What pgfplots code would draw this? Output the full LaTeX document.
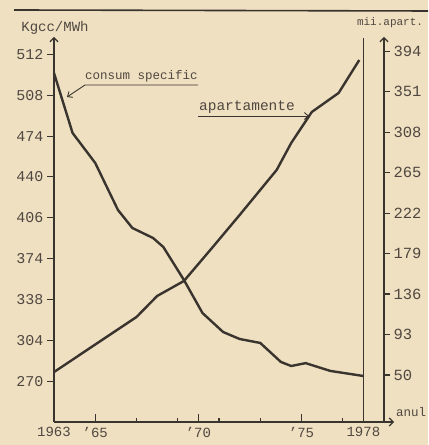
\documentclass[border=0pt]{standalone}
\usepackage{fontspec}
\setmainfont{Liberation Mono}
\usepackage{pgfplots}
\pgfplotsset{compat=1.18}
\usetikzlibrary{arrows.meta}
\definecolor{paper}{RGB}{239,224,194}
\definecolor{ink}{RGB}{58,52,46}
\definecolor{tinkc}{RGB}{80,72,64}
\pgfplotstableread{
year val
1963.0 526.5
1963.9 476.6
1965.0 451.6
1966.1 412.5
1966.8 397.5
1967.8 389.2
1968.3 381.7
1969.3 354.2
1970.2 326.7
1971.2 310.9
1972.0 305.1
1973.0 301.8
1974.0 286.0
1974.5 282.6
1975.2 285.0
1976.4 278.5
1978.0 274.3
}\consum
\pgfplotstableread{
year val
1963.0 53.1
1967.0 111.6
1968.0 133.9
1969.3 149.9
1970.7 186.0
1972.0 220.0
1973.8 268.0
1974.5 296.5
1975.5 329.5
1976.8 349.7
1977.8 384.7
}\apart
\begin{document}
\begin{tikzpicture}[x=1bp,y=1bp]
\fill[paper] (0,0) rectangle (428,445);
\useasboundingbox (0,0) rectangle (428,445);
\draw[ink, line width=1.6bp] (14,435) -- (428,434);
\pgfplotsset{base/.style={at={(54bp,23bp)}, anchor=south west, scale only axis,
  width=330bp, height=382bp, xmin=1963, xmax=1979, clip=false,
  axis line style={ink, line width=1.2bp}, tick style={ink, line width=1.1bp}}}
% x axis + consumption
\begin{axis}[base, ymin=236, ymax=554, axis x line=bottom, axis y line=none,
  x axis line style={-{Straight Barb[length=4bp,width=8bp]}, shorten >=-10bp},
  tick align=inside, major tick length=8bp,
  xtick={1963,1965,1970,1975,1978}, xticklabels={1963,'65,'70,'75,1978},
  extra x ticks={1967,1969,1971,1973,1977}, extra x tick labels={},
  extra x tick style={major tick length=4bp},
  xticklabel style={font=\fontsize{14bp}{14bp}\selectfont, text=tinkc, yshift=-2bp},
  ytick=\empty]
\addplot[ink, line width=2.4bp, line join=round, mark=none] table[x=year,y=val] {\consum};
\draw[ink, line width=1.2bp] (axis cs:1978,236) -- (axis cs:1978,556);
\end{axis}
% left axis
\begin{axis}[base, ymin=236, ymax=554, axis x line=none, axis y line=left,
  y axis line style={-{Straight Barb[length=4bp,width=8bp]}, shorten >=-3bp},
  tick align=outside, major tick length=7bp, xtick=\empty,
  ytick={270,304,338,372,406,440,474,508,542},
  yticklabels={270,304,338,374,406,440,474,508,512},
  yticklabel style={font=\fontsize{15bp}{15bp}\selectfont, text=tinkc}]
\end{axis}
% right axis
\begin{axis}[base, ymin=0, ymax=406, axis x line=none, axis y line=right,
  y axis line style={-{Straight Barb[length=4bp,width=8bp]}, shorten >=-3bp},
  tick align=outside, major tick length=6bp, xtick=\empty,
  ytick={50,93,136,179,222,265,308,351,394},
  yticklabels={50,93,136,179,222,265,308,351,394},
  yticklabel style={font=\fontsize{15.5bp}{15.5bp}\selectfont, text=tinkc}]
\addplot[ink, line width=2.4bp, line join=round, mark=none] table[x=year,y=val] {\apart};
\end{axis}
\node[font=\fontsize{14bp}{14bp}\selectfont, text=tinkc] at (55,417) {Kgcc/MWh};
\node[font=\fontsize{11bp}{11bp}\selectfont, text=tinkc] at (390,422) {mii.apart.};
\node[font=\fontsize{12.5bp}{12.5bp}\selectfont, text=tinkc] at (141.5,369) {consum specific};
\draw[ink, line width=0.9bp, -{Straight Barb[length=4bp,width=7bp]}] (198,360) -- (85,360) -- (67,348);
\node[font=\fontsize{14.5bp}{14.5bp}\selectfont, text=tinkc] at (247,338) {apartamente};
\draw[ink, line width=0.9bp, -{Straight Barb[length=4bp,width=7bp]}] (198,329) -- (309,329);
\node[font=\fontsize{12.5bp}{12.5bp}\selectfont, text=tinkc, anchor=west, inner sep=0pt] at (396,33) {anul};
\end{tikzpicture}
\end{document}
